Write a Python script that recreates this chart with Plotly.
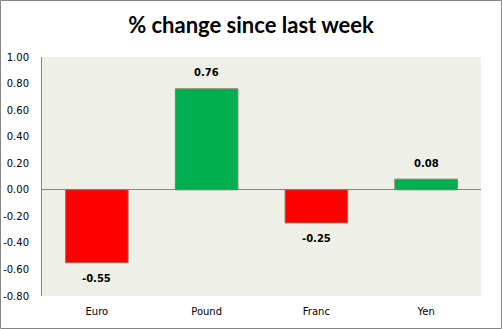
import plotly.graph_objects as go

categories = ["Euro", "Pound", "Franc", "Yen"]
values = [-0.55, 0.76, -0.25, 0.08]
tick_vals = [1.0, 0.8, 0.6, 0.4, 0.2, 0.0, -0.2, -0.4, -0.6, -0.8]
colors = ["#FF0000" if v < 0 else "#00B050" for v in values]

fig = go.Figure()
fig.add_trace(go.Bar(
    x=categories, y=values,
    marker=dict(color=colors, line=dict(color="#8C7A5A", width=1)),
    width=0.57,
    hoverinfo="skip",
))

for c, v in zip(categories, values):
    fig.add_annotation(
        x=c, y=v, text=f"<b>{v:.2f}</b>", showarrow=False,
        yanchor="middle", yshift=16 if v >= 0 else -16,
        font=dict(family="DejaVu Sans", size=10, color="#000000"),
    )

fig.update_layout(
    width=502, height=329,
    margin=dict(l=42, r=21, t=57, b=33),
    paper_bgcolor="#FFFFFF",
    plot_bgcolor="#EEF0E8",
    showlegend=False,
    title=dict(text="<b>% change since last week</b>", x=0.5, xanchor="center",
               y=1 - 25 / 329, yanchor="middle",
               font=dict(family="Lato", size=22, color="#000000")),
    xaxis=dict(showline=False, ticks="", showgrid=False, ticklabelstandoff=8,
               automargin=False,
               tickfont=dict(family="DejaVu Sans", size=10, color="#000000")),
    yaxis=dict(range=[-0.8, 1.0], tickvals=tick_vals,
               ticktext=[f"{t:.2f}" for t in tick_vals],
               showgrid=False, showline=True, linecolor="#868686", linewidth=1,
               zeroline=True, zerolinecolor="#868686", zerolinewidth=1,
               ticks="", ticklabelstandoff=10, automargin=False,
               tickfont=dict(family="DejaVu Sans", size=10, color="#000000")),
    shapes=[dict(type="rect", xref="paper", yref="paper",
                 x0=-41.5 / 439, x1=1 + 20.5 / 439, y0=-32.5 / 239, y1=1 + 56.5 / 239,
                 line=dict(color="#868686", width=1), layer="above")],
)

fig.write_html("out.html")
